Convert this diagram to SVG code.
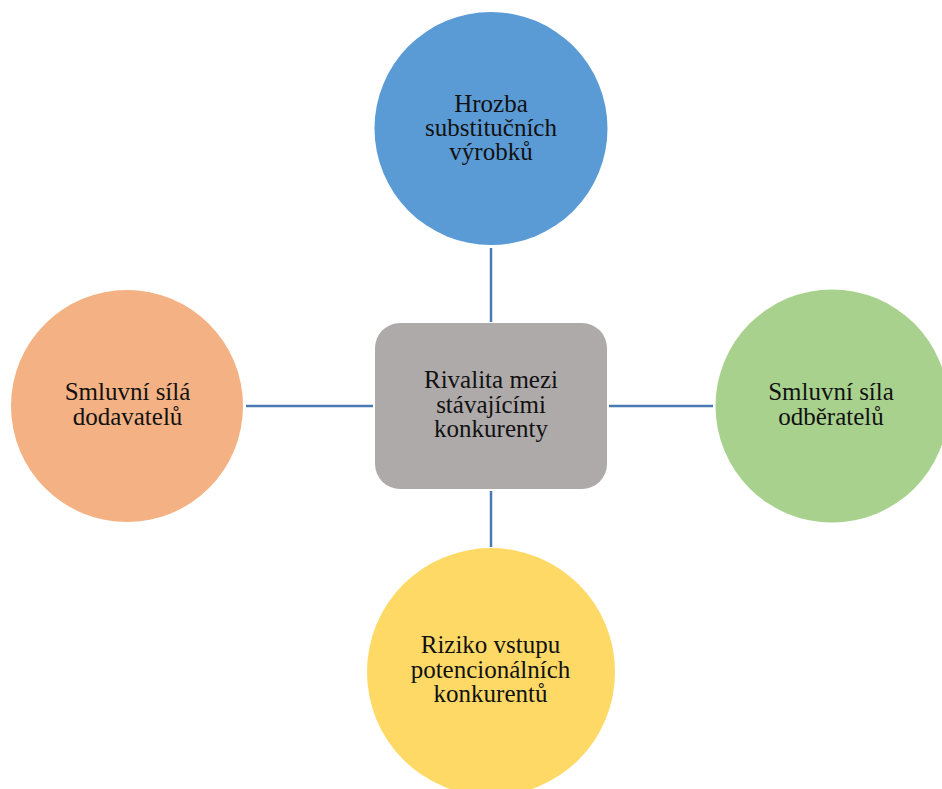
<svg xmlns="http://www.w3.org/2000/svg" width="942" height="789" viewBox="0 0 942 789">
  <style>
    .lbl { font-family: "Liberation Serif", "Times New Roman", serif; font-size: 25px; fill: #111111; text-anchor: middle; }
    .link { stroke: #4a7ab0; stroke-width: 2.5; fill: none; }
  </style>
  <rect width="942" height="789" fill="#ffffff"/>

  <!-- connectors between the central box and the four forces -->
  <g id="connectors">
    <line class="link" x1="491" y1="248" x2="491" y2="322"/>
    <line class="link" x1="491" y1="491" x2="491" y2="547"/>
    <line class="link" x1="246" y1="406" x2="373" y2="406"/>
    <line class="link" x1="609" y1="406" x2="713" y2="406"/>
  </g>

  <g id="rivalry">
    <rect x="375" y="323" width="232" height="166" rx="25" ry="25" fill="#aeaaaa"/>
    <text class="lbl" x="491" y="388">Rivalita mezi</text>
    <text class="lbl" x="491" y="413">stávajícími</text>
    <text class="lbl" x="491" y="437">konkurenty</text>
  </g>

  <g id="substitutes">
    <circle cx="491" cy="128.5" r="116.5" fill="#5b9bd5"/>
    <text class="lbl" x="491" y="112">Hrozba</text>
    <text class="lbl" x="491" y="136">substitučních</text>
    <text class="lbl" x="491" y="160">výrobků</text>
  </g>

  <g id="suppliers">
    <circle cx="127" cy="406" r="116" fill="#f4b183"/>
    <text class="lbl" x="127.5" y="400">Smluvní sílá</text>
    <text class="lbl" x="127.5" y="425">dodavatelů</text>
  </g>

  <g id="buyers">
    <circle cx="832" cy="406" r="116.5" fill="#a9d18e"/>
    <text class="lbl" x="831" y="400">Smluvní síla</text>
    <text class="lbl" x="831" y="425">odběratelů</text>
  </g>

  <g id="new-entrants">
    <circle cx="491" cy="672" r="124" fill="#ffd966"/>
    <text class="lbl" x="490.5" y="653">Riziko vstupu</text>
    <text class="lbl" x="490.5" y="678">potencionálních</text>
    <text class="lbl" x="490.5" y="702">konkurentů</text>
  </g>
</svg>
